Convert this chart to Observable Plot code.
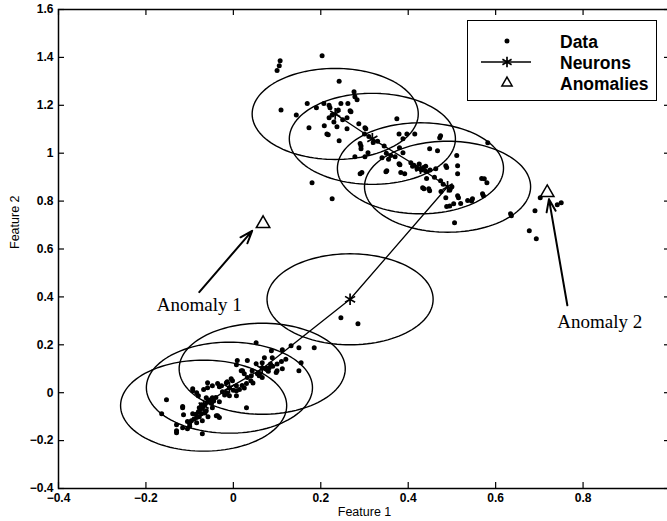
<!DOCTYPE html>
<html>
<head>
<meta charset="utf-8">
<script src="https://cdn.jsdelivr.net/npm/d3@7"></script>
<script src="https://cdn.jsdelivr.net/npm/@observablehq/plot@0.6"></script>
<style>
  html, body { margin: 0; padding: 0; background: #fff; }
  #wrap { position: relative; width: 667px; height: 521px; overflow: hidden; }
  #legend { position: absolute; left: 467px; top: 20px; width: 190px; height: 81px;
            box-sizing: border-box; border: 1.3px solid #000; background: #fff; }
  #legend svg { display: block; }
</style>
</head>
<body>
<div id="wrap"><div id="legend"></div></div>
<script>
// ---- data ----
const xTicks = [-0.4, -0.2, 0, 0.2, 0.4, 0.6, 0.8, 1.0];          // tick marks (1.0 sits at the clipped right edge)
const xLabelTicks = [-0.4, -0.2, 0, 0.2, 0.4, 0.6, 0.8];           // labelled ticks
const xTickLabels = ["\u22120.4", "\u22120.2", "0", "0.2", "0.4", "0.6", "0.8"];
const yTicks = [-0.4, -0.2, 0, 0.2, 0.4, 0.6, 0.8, 1.0, 1.2, 1.4, 1.6];
const yTickLabels = ["\u22120.4", "\u22120.2", "0", "0.2", "0.4", "0.6", "0.8", "1", "1.2", "1.4", "1.6"];

const legendLabels = ["Data", "Neurons", "Anomalies"];
const axisLabels = ["Feature 1", "Feature 2"];

// data points (Feature 1, Feature 2)
const dataPoints = [
  // upper cluster
  [0.107,1.386],[0.105,1.365],[0.100,1.345],[0.203,1.407],[0.242,1.300],
  [0.109,1.180],[0.144,1.160],[0.169,1.207],[0.190,1.190],[0.207,1.207],[0.221,1.190],
  [0.246,1.207],[0.269,1.173],[0.276,1.257],[0.278,1.236],[0.283,1.223],[0.219,1.148],
  [0.226,1.160],[0.260,1.148],[0.173,1.106],[0.208,1.115],[0.237,1.110],[0.260,1.102],
  [0.287,1.123],[0.301,1.106],[0.374,1.144],[0.217,1.077],[0.180,0.877],[0.226,0.810],
  [0.262,1.207],[0.267,1.177],[0.303,1.102],[0.242,1.052],[0.290,1.040],
  [0.292,1.019],[0.278,0.985],[0.308,1.002],[0.301,0.985],[0.397,1.080],[0.415,1.080],
  [0.388,1.060],[0.380,1.023],[0.388,1.002],[0.472,1.065],[0.449,1.019],[0.467,1.010],
  [0.511,0.990],[0.513,0.948],[0.513,0.914],[0.582,1.044],[0.340,0.981],[0.349,0.923],
  [0.290,0.914],[0.381,0.952],[0.392,0.914],[0.406,0.960],[0.413,0.950],[0.420,0.935],
  [0.430,0.930],[0.440,0.925],[0.463,0.935],[0.486,0.948],[0.433,0.856],[0.449,0.843],
  [0.474,0.885],[0.513,0.822],[0.495,0.780],[0.486,0.814],[0.536,0.802],[0.547,0.810],
  [0.570,0.831],[0.574,0.893],[0.580,0.877],[0.520,0.790],[0.506,0.710],[0.634,0.747],
  [0.474,1.073],[0.379,1.080],[0.294,0.919],[0.351,0.927],[0.379,0.956],[0.383,0.919],
  [0.436,0.852],[0.447,0.852],[0.442,0.894],[0.488,0.940],[0.568,0.894],[0.545,0.800],
  [0.572,0.822],[0.515,0.814],[0.488,0.777],[0.504,0.789],[0.636,0.739],
  [0.219,1.200],[0.214,1.080],[0.292,1.030],[0.330,1.050],[0.345,1.030],[0.360,0.990],
  [0.355,0.975],[0.370,0.985],[0.350,1.000],[0.410,0.945],[0.425,0.955],[0.435,0.940],
  [0.450,0.930],[0.440,0.945],[0.310,1.070],[0.320,1.045],[0.300,1.080],[0.250,1.140],
  [0.240,1.180],[0.230,1.130],[0.480,0.870],[0.500,0.860],[0.495,0.845],[0.475,0.840],
  [0.460,0.900],
  // right group near anomaly 2
  [0.690,0.760],[0.702,0.814],[0.750,0.793],[0.741,0.785],[0.677,0.676],[0.693,0.643],
  // middle
  [0.246,0.313],[0.285,0.288],
  // lower cluster
  [0.052,0.209],[0.087,0.175],[0.112,0.179],[0.132,0.196],[0.150,0.188],[0.185,0.188],
  [0.155,0.125],[0.150,0.092],[0.112,0.100],[0.100,0.092],[0.089,0.146],[0.071,0.146],
  [0.066,0.125],[0.052,0.121],[0.032,0.134],[0.009,0.134],[0.007,0.117],[0.043,0.092],
  [0.055,0.079],[0.066,0.063],[0.032,0.063],[0.021,0.092],[-0.002,0.050],[-0.014,0.046],
  [-0.009,0.021],[0.007,0.029],[0.014,0.013],[0.030,0.038],[-0.025,0.004],[-0.032,0.025],
  [-0.036,0.038],[-0.048,0.029],[-0.059,0.021],[-0.068,0.013],[-0.080,-0.013],[-0.093,0.017],
  [-0.084,0.000],[-0.062,-0.021],[-0.048,-0.021],[-0.032,-0.038],[-0.009,-0.013],[0.007,-0.013],
  [-0.048,-0.063],[-0.062,-0.075],[-0.078,-0.063],[-0.073,-0.088],[-0.084,-0.104],[-0.093,-0.088],
  [-0.096,-0.117],[-0.100,-0.130],[-0.084,-0.125],[-0.071,-0.117],[-0.039,-0.096],[-0.032,-0.104],
  [0.030,-0.063],[-0.153,-0.029],[-0.116,-0.063],[-0.114,-0.092],[-0.164,-0.088],[-0.130,-0.134],
  [-0.116,-0.146],[-0.130,-0.167],[-0.071,-0.171],[-0.073,-0.050],
  [0.018,0.092],[0.025,0.079],[0.041,0.071],[0.059,0.071],[0.066,0.104],[0.082,0.104],
  [0.098,0.084],[-0.005,0.058],[-0.016,0.042],[-0.027,0.029],[0.007,0.008],[-0.059,0.042],
  [-0.093,0.008],[-0.116,-0.058],[-0.036,-0.096],[-0.105,-0.150],[-0.130,-0.159],
  [-0.090,-0.110],[-0.085,-0.090],[-0.080,-0.080],[-0.075,-0.070],[-0.070,-0.060],[-0.065,-0.050],
  [-0.060,-0.040],[-0.055,-0.030],[-0.050,-0.045],[-0.045,-0.035],[-0.040,-0.020],[-0.020,-0.010],
  [-0.015,0.000],[0.000,0.010],[0.020,0.030],[0.040,0.050],[0.060,0.080],[0.080,0.090],
  [0.090,0.110],[0.100,0.120],[0.110,0.130],[0.120,0.140],[0.085,0.120],[0.075,0.100],
  [0.045,0.040],[0.025,0.020],[-0.100,-0.140],[-0.105,-0.120],[-0.078,-0.100],[-0.065,-0.085],
  [-0.058,-0.100]
];

// neuron chain (in order along the line)
const neuronX = [-0.068, -0.009, 0.066, 0.267, 0.490, 0.428, 0.318, 0.233];
const neuronY = [-0.054, 0.021, 0.100, 0.390, 0.860, 0.937, 1.060, 1.164];
const neuronRadius = 0.19;   // radius of each neuron's circle, in feature units

// anomalies
const anomalyX = [0.068, 0.718];
const anomalyY = [0.706, 0.835];

// annotations
const annotationText = ["Anomaly 1", "Anomaly 2"];
const annotationX = [-0.078, 0.838];
const annotationY = [0.365, 0.295];
const arrowX1 = [-0.078, 0.764];
const arrowY1 = [0.420, 0.365];
const arrowX2 = [0.043, 0.722];
const arrowY2 = [0.676, 0.808];

// ---- derived tables ----
const points = dataPoints.map(([x, y]) => ({x, y}));
const neurons = neuronX.map((x, i) => ({x, y: neuronY[i]}));
const anomalies = anomalyX.map((x, i) => ({x, y: anomalyY[i]}));
const annotations = annotationText.map((t, i) => ({t, x: annotationX[i], y: annotationY[i]}));
const arrows = arrowX1.map((x1, i) => ({x1, y1: arrowY1[i], x2: arrowX2[i], y2: arrowY2[i]}));
const circlePts = [];
neurons.forEach((n, k) => {
  for (let j = 0; j < 120; j++) {
    const a = 2 * Math.PI * j / 120;
    circlePts.push({k, x: n.x + neuronRadius * Math.cos(a), y: n.y + neuronRadius * Math.sin(a)});
  }
});

const W = 667, H = 521, mL = 58, mR = -3, mT = 9, mB = 33;
const frameW = W - mL - mR, frameH = H - mT - mB, tk = 6;

const chart = Plot.plot({
  width: W, height: H,
  marginLeft: mL, marginRight: mR, marginTop: mT, marginBottom: mB,
  x: {domain: [-0.4, 1.0]},
  y: {domain: [-0.4, 1.6]},
  style: {background: "transparent", fontFamily: "'Liberation Sans', Arial, sans-serif", color: "#000"},
  marks: [
    Plot.line(circlePts, {x: "x", y: "y", z: "k", curve: "linear-closed", stroke: "#000", strokeWidth: 1.4}),
    Plot.line(neurons, {x: "x", y: "y", stroke: "#000", strokeWidth: 1.3}),
    Plot.dot(points, {x: "x", y: "y", r: 2.5, fill: "#000"}),
    Plot.dot(neurons, {x: "x", y: "y", symbol: "asterisk", r: 5.5, stroke: "#000", strokeWidth: 1.7}),
    Plot.dot(anomalies, {x: "x", y: "y", symbol: "triangle", r: 5, stroke: "#000", fill: "#fff", strokeWidth: 1.5}),
    Plot.arrow(arrows, {x1: "x1", y1: "y1", x2: "x2", y2: "y2", stroke: "#000", strokeWidth: 2, headLength: 10, headAngle: 40}),
    Plot.text(annotations, {x: "x", y: "y", text: "t", fontFamily: "'Liberation Serif', 'Times New Roman', serif", fontSize: 19, fill: "#000"}),
    // ticks pointing inward on all four sides
    Plot.tickX(xTicks, {x: d => d, insetTop: frameH - tk, stroke: "#000", strokeWidth: 1.2}),
    Plot.tickX(xTicks, {x: d => d, insetBottom: frameH - tk, stroke: "#000", strokeWidth: 1.2}),
    Plot.tickY(yTicks, {y: d => d, insetRight: frameW - tk, stroke: "#000", strokeWidth: 1.2}),
    Plot.tickY(yTicks, {y: d => d, insetLeft: frameW - tk, stroke: "#000", strokeWidth: 1.2}),
    Plot.frame({stroke: "#000", strokeWidth: 1.5}),
    Plot.axisX({ticks: xLabelTicks, tickSize: 0, tickPadding: 5, tickFormat: d => xTickLabels[xLabelTicks.indexOf(d)],
                fontSize: 12, fontWeight: "bold", label: null}),
    Plot.axisY({ticks: yTicks, tickSize: 0, tickPadding: 5, tickFormat: d => yTickLabels[yTicks.indexOf(d)],
                fontSize: 12, fontWeight: "bold", label: null}),
    Plot.text([axisLabels[0]], {frameAnchor: "bottom", dy: 27, fontSize: 12.5, fill: "#000"}),
    Plot.text([axisLabels[1]], {frameAnchor: "left", dx: -44, rotate: -90, fontSize: 12.5, fill: "#000"})
  ]
});

const wrap = document.getElementById("wrap");
wrap.insertBefore(chart, wrap.firstChild);

// legend drawn inside the axes, as in the reference
const lg = d3.select("#legend").append("svg").attr("width", 188).attr("height", 79);
const rows = [20, 41, 62];
const textX = 92;
legendLabels.forEach((t, i) => {
  lg.append("text").attr("x", textX).attr("y", rows[i] + 6.5)
    .attr("font-family", "'Liberation Sans', Arial, sans-serif")
    .attr("font-size", 17.5).attr("font-weight", "bold").attr("fill", "#000").text(t);
});
lg.append("circle").attr("cx", 39).attr("cy", rows[0]).attr("r", 2.5).attr("fill", "#000");
lg.append("line").attr("x1", 13).attr("x2", 63).attr("y1", rows[1]).attr("y2", rows[1]).attr("stroke", "#000").attr("stroke-width", 1.4);
lg.append("path").attr("transform", `translate(39,${rows[1]})`)
  .attr("d", d3.symbol(d3.symbolAsterisk, Math.PI * 5 * 5)()).attr("stroke", "#000").attr("stroke-width", 1.7).attr("fill", "none");
lg.append("path").attr("transform", `translate(39,${rows[2]})`)
  .attr("d", d3.symbol(d3.symbolTriangle, Math.PI * 3.8 * 3.8)()).attr("stroke", "#000").attr("stroke-width", 1.5).attr("fill", "#fff");
</script>
</body>
</html>
